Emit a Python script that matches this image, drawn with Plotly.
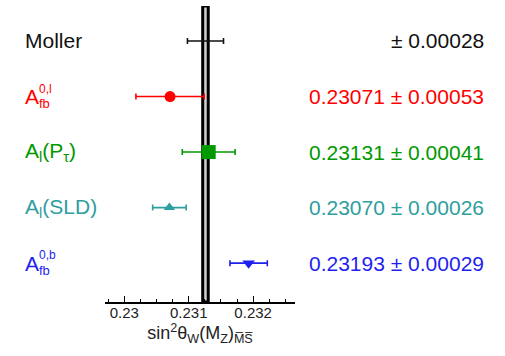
import plotly.graph_objects as go

# Measurements of the effective weak mixing angle
names = ["Moller", "Afb_l", "Al_Ptau", "Al_SLD", "Afb_b"]
values = [0.23126, 0.23071, 0.23131, 0.23070, 0.23193]
errors = [0.00028, 0.00053, 0.00041, 0.00026, 0.00029]
value_texts = ["± 0.00028", "0.23071 ± 0.00053", "0.23131 ± 0.00041",
               "0.23070 ± 0.00026", "0.23193 ± 0.00029"]
colors = ["#111111", "#ff0000", "#009900", "#2e9e9e", "#1f1fee"]
symbols = [None, "circle", "square", "triangle-up", "triangle-down"]
marker_sizes = [0, 11, 14, 10, 11]
rows = [5, 4, 3, 2, 1]

# Standard Model prediction band
sm_value = 0.23126
sm_half_width = 0.000043

x_range = [0.2297, 0.23265]
y_range = [0.3, 5.63]

W, H = 505, 356
ml, mr, mt, mb = 105, 210, 6, 54
plot_w = W - ml - mr

FONT = "Liberation Sans, Arial, Helvetica, sans-serif"


def px_to_paper(px):
    return (px - ml) / plot_w


fig = go.Figure()

# band: light interior with black edges
fig.add_shape(type="rect", xref="x", yref="y",
              x0=sm_value - sm_half_width, x1=sm_value + sm_half_width,
              y0=y_range[0], y1=y_range[1],
              fillcolor="#cfcfcf", line=dict(color="black", width=3),
              layer="below")

for name, v, e, c, s, ms, r in zip(names, values, errors, colors, symbols,
                                     marker_sizes, rows):
    fig.add_trace(go.Scatter(
        x=[v], y=[r], mode="markers",
        marker=dict(symbol=s or "circle", size=ms if s else 1,
                    color=c, opacity=1 if s else 0),
        error_x=dict(type="data", array=[e], visible=True, color=c,
                     thickness=1.6, width=3),
        showlegend=False, name=name, hoverinfo="skip"))

# value text on the right
for t, c, r in zip(value_texts, colors, rows):
    fig.add_annotation(xref="paper", yref="y", x=px_to_paper(486), y=r,
                       text=t, showarrow=False, xanchor="right",
                       font=dict(family=FONT, size=21, color=c))

# measurement labels on the left
label_x = px_to_paper(23)
script_x = px_to_paper(37)


def add_label(text, color, row, yshift=0, size=21, x=label_x):
    fig.add_annotation(xref="paper", yref="y", x=x, y=row, text=text,
                       showarrow=False, xanchor="left", yshift=yshift,
                       font=dict(family=FONT, size=size, color=color))


add_label("Moller", colors[0], rows[0])
add_label("A", colors[1], rows[1])
add_label("0,l", colors[1], rows[1], yshift=8, size=12, x=script_x)
add_label("fb", colors[1], rows[1], yshift=-7, size=13, x=script_x)
add_label("A<sub>l</sub>(P<sub>τ</sub>)", colors[2], rows[2])
add_label("A<sub>l</sub>(SLD)", colors[3], rows[3])
add_label("A", colors[4], rows[4])
add_label("0,b", colors[4], rows[4], yshift=8, size=12, x=script_x)
add_label("fb", colors[4], rows[4], yshift=-7, size=13, x=script_x)

fig.update_xaxes(range=x_range, dtick=0.001, tick0=0.23,
                 ticks="inside", ticklen=6, tickwidth=1, tickcolor="black",
                 showline=True, linecolor="black", linewidth=1.5,
                 showgrid=False, zeroline=False,
                 minor=dict(dtick=0.00025, ticks="inside", ticklen=3,
                            tickcolor="black", showgrid=False),
                 ticklabelstandoff=-4,
                 tickfont=dict(family=FONT, size=15, color="#222222"),
                 title=dict(text="sin<sup>2</sup>θ<sub>W</sub>(M<sub>Z</sub>)<sub>M̅S̅</sub>",
                            font=dict(family=FONT, size=18, color="#222222"),
                            standoff=0))
fig.update_yaxes(range=y_range, visible=False, showgrid=False, zeroline=False)

fig.update_layout(width=W, height=H,
                  margin=dict(l=ml, r=mr, t=mt, b=mb),
                  paper_bgcolor="white", plot_bgcolor="white")

fig.write_html("out.html")
